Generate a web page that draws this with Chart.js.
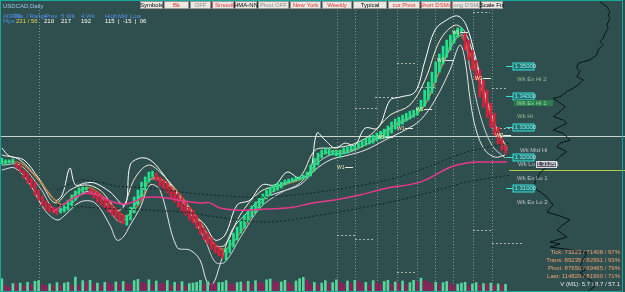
<!DOCTYPE html>
<html>
<head>
<meta charset="utf-8">
<script src="https://cdn.jsdelivr.net/npm/chart.js@4.4.1/dist/chart.umd.min.js"></script>
<style>
  html, body { margin: 0; padding: 0; background: #2f4f4f; }
  #wrap { width: 625px; height: 292px; }
</style>
</head>
<body>
<div id="wrap"><canvas id="chart" width="625" height="292"></canvas></div>
<script>
// ===========================
// Data
// ===========================

const opens = [
    1.3178, 1.3178, 1.3182, 1.3182, 1.3182, 1.3175, 1.3159, 1.3149, 1.3132, 1.3119,
    1.3093, 1.3074, 1.3057, 1.3047, 1.3037, 1.3034, 1.3018, 1.3021, 1.3027, 1.3041,
    1.3060, 1.3077, 1.3087, 1.3093, 1.3097, 1.3093, 1.3087, 1.3077, 1.3067, 1.3060,
    1.3044, 1.3034, 1.3021, 1.3011, 1.2978, 1.2995, 1.3018, 1.3044, 1.3070, 1.3093,
    1.3119, 1.3136, 1.3149, 1.3136, 1.3126, 1.3116, 1.3103, 1.3093, 1.3083, 1.3070,
    1.3054, 1.3037, 1.3027, 1.3011, 1.2988, 1.2968, 1.2952, 1.2936, 1.2919, 1.2906,
    1.2896, 1.2864, 1.2887, 1.2906, 1.2929, 1.2952, 1.2968, 1.2988, 1.3005, 1.3018,
    1.3034, 1.3047, 1.3064, 1.3074, 1.3087, 1.3093, 1.3100, 1.3110, 1.3116, 1.3119,
    1.3123, 1.3126, 1.3129, 1.3132, 1.3139, 1.3155, 1.3175, 1.3198, 1.3211, 1.3208,
    1.3208, 1.3205, 1.3201, 1.3211, 1.3214, 1.3221, 1.3224, 1.3231, 1.3234, 1.3240,
    1.3244, 1.3247, 1.3254, 1.3260, 1.3263, 1.3270, 1.3280, 1.3293, 1.3303, 1.3309,
    1.3319, 1.3326, 1.3332, 1.3339, 1.3355, 1.3368, 1.3388, 1.3411, 1.3447, 1.3480,
    1.3506, 1.3529, 1.3552, 1.3575, 1.3595, 1.3608, 1.3611, 1.3585, 1.3552, 1.3519,
    1.3487, 1.3454, 1.3421, 1.3378, 1.3345, 1.3299, 1.3263, 1.3240
];

const closes = [
    1.3198, 1.3192, 1.3192, 1.3195, 1.3165, 1.3152, 1.3132, 1.3116, 1.3100, 1.3077,
    1.3060, 1.3041, 1.3027, 1.3021, 1.3018, 1.3014, 1.3034, 1.3044, 1.3060, 1.3077,
    1.3090, 1.3100, 1.3103, 1.3103, 1.3077, 1.3067, 1.3054, 1.3044, 1.3034, 1.3021,
    1.3011, 1.3001, 1.2988, 1.2982, 1.3011, 1.3037, 1.3070, 1.3093, 1.3119, 1.3136,
    1.3152, 1.3155, 1.3123, 1.3106, 1.3093, 1.3083, 1.3067, 1.3054, 1.3037, 1.3021,
    1.3011, 1.2995, 1.2985, 1.2968, 1.2949, 1.2929, 1.2916, 1.2900, 1.2887, 1.2877,
    1.2870, 1.2903, 1.2929, 1.2952, 1.2972, 1.2995, 1.3011, 1.3024, 1.3041, 1.3054,
    1.3067, 1.3080, 1.3093, 1.3103, 1.3110, 1.3116, 1.3119, 1.3126, 1.3129, 1.3132,
    1.3136, 1.3136, 1.3142, 1.3152, 1.3175, 1.3198, 1.3214, 1.3224, 1.3231, 1.3227,
    1.3224, 1.3224, 1.3224, 1.3231, 1.3234, 1.3237, 1.3240, 1.3247, 1.3254, 1.3263,
    1.3267, 1.3273, 1.3280, 1.3286, 1.3293, 1.3303, 1.3316, 1.3326, 1.3332, 1.3339,
    1.3345, 1.3352, 1.3355, 1.3362, 1.3388, 1.3421, 1.3447, 1.3480, 1.3513, 1.3539,
    1.3565, 1.3585, 1.3601, 1.3614, 1.3625, 1.3625, 1.3552, 1.3519, 1.3487, 1.3454,
    1.3398, 1.3365, 1.3332, 1.3299, 1.3273, 1.3244, 1.3224, 1.3214
];

// tick volume (thousands)
const volumes = [
    82, 44, 30, 52, 48, 55, 40, 60, 45, 66, 70, 48, 40, 50, 38, 58, 42, 55, 60, 45,
    92, 40, 70, 62, 72, 50, 55, 42, 60, 58, 48, 62, 50, 65, 52, 48, 70, 78, 60, 52,
    75, 45, 68, 55, 50, 70, 40, 60, 50, 64, 38, 52, 55, 60, 72, 48, 65, 55, 50, 58,
    60, 70, 52, 45, 58, 62, 55, 66, 48, 70, 60, 52, 75, 80, 68, 56, 62, 72, 58, 45,
    68, 82, 90, 75, 50, 60, 45, 55, 70, 52, 58, 75, 62, 48, 68, 55, 72, 66, 52, 60,
    45, 70, 58, 48, 65, 72, 50, 62, 55, 68, 48, 58, 72, 64, 85, 70, 62, 50, 60, 45,
    58, 65, 52, 40, 48, 55, 60, 42, 50, 58, 45, 52, 48, 55, 40, 50, 44, 48
];

// indicator lines: [bar, price]
const smoothLine = [
    [0, 1.3185], [5, 1.3182], [10, 1.3126], [15, 1.3054], [17, 1.3047], [21, 1.3090], [24, 1.3100],
    [28, 1.3067], [32, 1.3018], [34, 1.3008], [38, 1.3060], [40, 1.3126], [43, 1.3132], [48, 1.3083],
    [54, 1.2988], [58, 1.2913], [61, 1.2900], [65, 1.2955], [70, 1.3044], [75, 1.3100], [81, 1.3126],
    [84, 1.3146], [86, 1.3201], [89, 1.3218], [95, 1.3224], [103, 1.3267], [108, 1.3316], [114, 1.3355],
    [118, 1.3454], [122, 1.3569], [124.5, 1.3601], [127, 1.3552], [131, 1.3405], [134, 1.3306], [137, 1.3231]
];

const bandUpper = [
    [0, 1.3231], [2, 1.3205], [6, 1.3192], [10, 1.3132], [14.5, 1.3060], [16.4, 1.3077], [18.5, 1.3165],
    [20, 1.3110], [22.6, 1.3116], [25.3, 1.3116], [29.4, 1.3087], [33.5, 1.3044], [34.9, 1.3175],
    [37.6, 1.3198], [40.3, 1.3192], [43, 1.3159], [47, 1.3093], [52.5, 1.3011], [55.3, 1.2978],
    [58, 1.2929], [60.7, 1.2946], [64, 1.3044], [67.5, 1.3060], [70.8, 1.3110], [74.3, 1.3110],
    [77.6, 1.3152], [81, 1.3132], [83.8, 1.3152], [85.7, 1.3280], [87.9, 1.3257], [90.6, 1.3231],
    [93.4, 1.3247], [96, 1.3240], [98.8, 1.3296], [102.3, 1.3296], [105.6, 1.3388], [108.3, 1.3398],
    [112.4, 1.3415], [115, 1.3513], [117.8, 1.3618], [121, 1.3651], [124, 1.3664], [126.3, 1.3634],
    [128.7, 1.3536], [131.4, 1.3405], [134.2, 1.3306], [137.4, 1.3231]
];

const bandLower = [
    [0, 1.3159], [3.6, 1.3165], [7.7, 1.3110], [11.7, 1.3027], [15, 1.2995], [17.2, 1.3011],
    [21.3, 1.3054], [25.3, 1.3051], [29.4, 1.2978], [31.3, 1.2929], [33, 1.2939], [34.9, 1.2978],
    [37.6, 1.3034], [40.3, 1.3110], [43, 1.3093], [47.6, 1.2906], [51.2, 1.2896], [53.9, 1.2864],
    [55.8, 1.2792], [57.4, 1.2785], [59.3, 1.2847], [62.6, 1.2962], [66.1, 1.3011], [70.2, 1.3060],
    [75.7, 1.3087], [81.1, 1.3110], [85.2, 1.3159], [89.3, 1.3192], [93.4, 1.3205], [98.8, 1.3224],
    [104.2, 1.3257], [109.7, 1.3290], [113.8, 1.3322], [117.8, 1.3388], [121.9, 1.3487],
    [124.6, 1.3569], [126, 1.3519], [127.4, 1.3388], [129, 1.3290], [131.4, 1.3224], [134.2, 1.3201],
    [136.9, 1.3208]
];

const innerHigh = [
    [0, 1.3208], [4.9, 1.3192], [10.4, 1.3119], [14.5, 1.3051], [18.5, 1.3093], [22.6, 1.3110],
    [26.7, 1.3093], [32.1, 1.3027], [36.2, 1.3132], [39.8, 1.3175], [43, 1.3152], [48.5, 1.3077],
    [53.9, 1.2988], [58, 1.2913], [60.7, 1.2913], [64.8, 1.3011], [70.2, 1.3087], [75.7, 1.3110],
    [81.1, 1.3136], [85.2, 1.3224], [89.3, 1.3231], [94.7, 1.3240], [100.2, 1.3273], [105.6, 1.3339],
    [111, 1.3372], [115.1, 1.3454], [119.2, 1.3585], [123.3, 1.3634], [126, 1.3611], [128.7, 1.3519],
    [132, 1.3388], [134.7, 1.3290], [137.4, 1.3224]
];

const innerLow = [
    [0, 1.3175], [4.9, 1.3175], [10.4, 1.3100], [14.5, 1.3027], [18.5, 1.3044], [22.6, 1.3087],
    [26.7, 1.3074], [32.1, 1.2988], [36.2, 1.3044], [40.3, 1.3126], [44.4, 1.3119], [49.8, 1.3044],
    [55.3, 1.2929], [58, 1.2857], [60.7, 1.2857], [64.8, 1.2936], [70.2, 1.3034], [75.7, 1.3083],
    [81.1, 1.3116], [85.2, 1.3175], [89.3, 1.3208], [94.7, 1.3218], [100.2, 1.3251], [105.6, 1.3297],
    [111, 1.3329], [115.1, 1.3372], [119.2, 1.3487], [123.3, 1.3585], [125.5, 1.3601], [127.4, 1.3487],
    [130.1, 1.3339], [133.3, 1.3240], [136.9, 1.3198]
];

const longMa = [
    [14, 1.3021], [17.7, 1.3054], [21.3, 1.3077], [24, 1.3083], [26.7, 1.3074], [30.2, 1.3054],
    [33.5, 1.3047], [35.7, 1.3054], [38.4, 1.3067], [41.1, 1.3070], [44.9, 1.3067], [49.3, 1.3057],
    [53.9, 1.3051], [56.6, 1.3051], [59.3, 1.3034], [64.8, 1.3027], [72.1, 1.3031], [79.2, 1.3037],
    [84.6, 1.3051], [90.1, 1.3060], [97.4, 1.3077], [104.8, 1.3100], [113.8, 1.3119], [121.9, 1.3168],
    [126.5, 1.3182], [132, 1.3185], [137.4, 1.3185]
];

const envUpper = [
    [15, 1.3093], [21.3, 1.3126], [26.7, 1.3119], [31.3, 1.3106], [40.3, 1.3100], [48.5, 1.3087],
    [56.6, 1.3077], [72.1, 1.3070], [90.1, 1.3093], [104.8, 1.3126], [113.8, 1.3159], [126.5, 1.3218],
    [138.2, 1.3247]
];

const envLower = [
    [15, 1.3044], [26.7, 1.3034], [40.3, 1.3027], [49.3, 1.3021], [56.6, 1.3008], [72.1, 1.2988],
    [90.1, 1.3018], [104.8, 1.3051], [113.8, 1.3077], [126.5, 1.3119], [138.2, 1.3142]
];

// volume profile on the right: [volume (k), price]
const profile = [
    [20.0, 1.3711], [14.6, 1.3695], [12.0, 1.3678], [13.4, 1.3667], [12.0, 1.3657], [14.6, 1.3634],
    [13.4, 1.3624], [16.0, 1.3607], [17.4, 1.3591], [20.0, 1.3580], [17.4, 1.3569], [21.4, 1.3553],
    [22.6, 1.3536], [28.0, 1.3520], [33.4, 1.3514], [37.4, 1.3509], [38.6, 1.3493], [36.0, 1.3481],
    [38.6, 1.3465], [33.4, 1.3454], [37.4, 1.3438], [41.4, 1.3427], [46.6, 1.3416], [52.0, 1.3399],
    [57.4, 1.3394], [53.4, 1.3383], [48.0, 1.3367], [52.0, 1.3350], [57.4, 1.3334], [49.4, 1.3323],
    [46.6, 1.3312], [52.0, 1.3301], [57.4, 1.3290], [49.4, 1.3279], [44.0, 1.3257], [52.0, 1.3247],
    [54.6, 1.3235], [46.6, 1.3219], [52.0, 1.3203], [54.6, 1.3192], [57.4, 1.3181], [62.6, 1.3170],
    [68.0, 1.3149], [70.4, 1.3133], [73.6, 1.3103], [68.0, 1.3087], [62.4, 1.3070], [57.6, 1.3044],
    [60.0, 1.3034], [62.4, 1.3021], [52.0, 1.3008], [44.0, 1.2995], [49.6, 1.2979], [54.4, 1.2962],
    [46.4, 1.2939], [60.0, 1.2923], [52.0, 1.2916], [60.0, 1.2906], [48.0, 1.2900], [30.4, 1.2887],
    [33.6, 1.2864], [36.0, 1.2841], [32.0, 1.2831], [36.0, 1.2821], [28.0, 1.2798], [22.4, 1.2782],
    [30.4, 1.2759]
];

const roundLevels = [1.35, 1.34, 1.33, 1.32, 1.31];
const currentPrice = 1.3270;
const weekLow = 1.3159;
const weekMarks = [10.1, 91.2, 96.1, 102.1, 107.5, 112.9, 117.8, 122.7, 128.2, 133.3];
// weekly pivot segments: [from bar, to bar, price]
const pivotSegments = [
    [91.2, 96.1, 1.2945], [96.1, 101.0, 1.2932], [107.5, 112.7, 1.2824], [128.2, 133.3, 1.2962],
    [133.3, 141.8, 1.2919], [128.2, 132.8, 1.3677], [101.5, 107.5, 1.3398], [96.1, 102.1, 1.3362],
    [107.5, 112.4, 1.3510], [133.3, 137.4, 1.3428], [113, 118, 1.3431], [133.3, 143.7, 1.3297]
];
// weekly pivot tags: [bar, price, text]
const pivotTags = [
    [92, 1.3169, 'W1'], [102.9, 1.3267, 'W1'], [108.3, 1.3297, 'W1'], [113.5, 1.3359, 'W1'],
    [119.2, 1.3519, 'W1'], [123.3, 1.3611, 'W1'], [129.5, 1.3461, 'W1'], [135, 1.3273, 'WP']
];

const buttons = ['Symbols', 'Bk', 'OFF', 'J Smooth', 'HMA-NN', 'Pivot OFF', 'New York',
    'Weekly', 'Typical', 'cur.Pivot', 'Short DSMA', 'Long DSMA', 'Scale Fix'];
const statLines = ['Tick: 73223 / 71408 / 97%', 'Trans: 89235 / 82991 / 93%',
    'Pivot: 87650 / 69465 / 79%', 'Last: 114820 / 81990 / 71%', 'V (M1): 5.7 / 8.7 / 57.1'];

// ===========================
// Chart.js Configuration
// ===========================

const UP = '#1de38c';
const DOWN = '#dc1f3c';
const FONT = '"Liberation Sans", Arial, sans-serif';

function pts(arr) {
    return arr.map(p => ({ x: p[0], y: p[1] }));
}

function lineSet(data, color, extra) {
    return Object.assign({
        type: 'line',
        data: pts(data),
        borderColor: color,
        borderWidth: 1,
        pointRadius: 0,
        tension: 0.35,
        fill: false
    }, extra || {});
}

function hiddenAxis(opts) {
    return Object.assign({
        type: 'linear',
        display: false,
        offset: false,
        grace: 0,
        ticks: { display: false },
        grid: { display: false, offset: false }
    }, opts);
}

const overlay = {
    id: 'overlay',
    beforeDatasetsDraw(chart) {
        const ctx = chart.ctx;
        const x = chart.scales.x, y = chart.scales.y;
        ctx.save();
        ctx.fillStyle = '#2f4f4f';
        ctx.fillRect(0, 0, chart.width, chart.height);

        // weekly separators
        ctx.strokeStyle = 'rgba(200,210,210,0.55)';
        ctx.lineWidth = 1;
        ctx.setLineDash([1, 2]);
        weekMarks.forEach(b => {
            const px = Math.round(x.getPixelForValue(b)) + 0.5;
            ctx.beginPath();
            ctx.moveTo(px, 10);
            ctx.lineTo(px, chart.height);
            ctx.stroke();
        });

        // weekly pivot levels
        ctx.strokeStyle = 'rgba(215,220,215,0.75)';
        ctx.setLineDash([2, 2]);
        pivotSegments.forEach(s => {
            const py = Math.round(y.getPixelForValue(s[2])) + 0.5;
            ctx.beginPath();
            ctx.moveTo(x.getPixelForValue(s[0]), py);
            ctx.lineTo(x.getPixelForValue(s[1]), py);
            ctx.stroke();
        });
        ctx.setLineDash([]);

        // current price line
        const cp = Math.round(y.getPixelForValue(currentPrice)) + 0.5;
        ctx.strokeStyle = '#c9d6cf';
        ctx.beginPath();
        ctx.moveTo(0, cp);
        ctx.lineTo(chart.width, cp);
        ctx.stroke();

        // weekly low line
        const wl = Math.round(y.getPixelForValue(weekLow)) + 0.5;
        ctx.strokeStyle = '#b5c94a';
        ctx.beginPath();
        ctx.moveTo(x.getPixelForValue(138), wl);
        ctx.lineTo(chart.width, wl);
        ctx.stroke();
        ctx.restore();
    },
    afterDatasetsDraw(chart) {
        const ctx = chart.ctx;
        const x = chart.scales.x, y = chart.scales.y;
        ctx.save();
        ctx.textBaseline = 'middle';
        ctx.font = '5px ' + FONT;

        // pivot tags with short white dash
        pivotTags.forEach(t => {
            const px = x.getPixelForValue(t[0]);
            const py = Math.round(y.getPixelForValue(t[1])) + 0.5;
            ctx.fillStyle = '#f2eeb0';
            ctx.fillText(t[2], px - 3, py);
            ctx.strokeStyle = '#e8e8e8';
            ctx.beginPath();
            ctx.moveTo(px + 5, py);
            ctx.lineTo(px + 13, py);
            ctx.stroke();
        });

        // border
        ctx.strokeStyle = '#1aa89c';
        ctx.lineWidth = 1;
        ctx.strokeRect(0.5, 0.5, chart.width - 3, chart.height - 1);

        // title + info block
        ctx.font = '6px ' + FONT;
        ctx.fillStyle = '#9cc7ee';
        ctx.fillText('USDCAD,Daily', 3, 6);
        ctx.fillStyle = '#4f8fe8';
        ctx.fillText('ADR/D', 3, 16);
        ctx.fillText('Tav. / Range', 14, 16);
        ctx.fillText('Prev', 45, 16);
        ctx.fillText('5 Wk', 61, 16);
        ctx.fillText('4 Wk', 81, 16);
        ctx.fillText('High', 105, 16);
        ctx.fillText('Mid', 118, 16);
        ctx.fillText('Low', 130, 16);
        ctx.fillText('Pips', 3, 21);
        ctx.fillStyle = '#e8d44d';
        ctx.fillText('231 / 56', 16, 21);
        ctx.fillStyle = '#ffffff';
        ctx.fillText('210', 44, 21);
        ctx.fillText('217', 61, 21);
        ctx.fillText('192', 81, 21);
        ctx.fillText('115  |  -15  |  06', 105, 21);

        // buttons
        const edges = [140, 164, 190, 212, 235, 258, 290, 322, 353, 388, 421, 452, 481, 504];
        const colors = ['#000', '#d33', '#888', '#d33', '#000', '#888', '#d33', '#d33', '#000', '#d33', '#d33', '#888', '#000'];
        ctx.textAlign = 'center';
        buttons.forEach((b, i) => {
            const x0 = edges[i], w = edges[i + 1] - edges[i] - 1;
            ctx.fillStyle = '#ece8e2';
            ctx.fillRect(x0, 1, w, 8);
            ctx.strokeStyle = '#9a9a9a';
            ctx.strokeRect(x0 + 0.5, 1.5, w - 1, 7);
            ctx.fillStyle = colors[i];
            ctx.fillText(b, x0 + w / 2, 5.5);
        });

        // round number boxes
        ctx.textAlign = 'left';
        roundLevels.forEach(lv => {
            const py = Math.round(y.getPixelForValue(lv)) + 0.5;
            ctx.strokeStyle = '#3fe0d8';
            ctx.beginPath();
            ctx.moveTo(506, py);
            ctx.lineTo(513, py);
            ctx.stroke();
            ctx.fillStyle = '#1f6f6c';
            ctx.fillRect(513, py - 3.5, 21, 7);
            ctx.strokeRect(513, py - 3.5, 21, 7);
            ctx.fillStyle = '#8ff5f0';
            ctx.fillText(lv.toFixed(5), 514.5, py);
        });

        // weekly level names
        ctx.fillStyle = '#8fbf8f';
        ctx.fillText('Wk Ex Hi 2', 517, 79);
        ctx.fillStyle = '#2e7d4f';
        ctx.fillRect(514, 100, 39, 6);
        ctx.fillStyle = '#8fdf9f';
        ctx.fillText('Wk Ex Hi 1', 517, 103);
        ctx.fillStyle = '#8fbf8f';
        ctx.fillText('Wk Hi', 517, 116);
        ctx.fillStyle = '#c0c0c0';
        ctx.fillText('Wk Mid Hi', 520, 150);
        ctx.fillText('Wk Lo', 518, 164);
        ctx.fillStyle = '#556';
        ctx.fillRect(536, 161, 20, 7);
        ctx.strokeStyle = '#ddd';
        ctx.strokeRect(536.5, 161.5, 20, 6);
        ctx.fillStyle = '#fff';
        ctx.fillText('1.31255', 537, 164.5);
        ctx.fillStyle = '#c0c0c0';
        ctx.fillText('Wk Ex Lo 1', 517, 178);
        ctx.fillText('Wk Ex Lo 2', 517, 202);

        // stats block
        ctx.textAlign = 'right';
        statLines.forEach((s, i) => {
            ctx.fillStyle = i < 4 ? '#f0a070' : '#e8e8e8';
            ctx.fillText(s, 620, 252 + i * 8);
        });
        ctx.restore();
    }
};

const candleColors = opens.map((o, i) => closes[i] >= o ? UP : DOWN);
const volColors = volumes.map((v, i) => (i === 0 || v >= volumes[i - 1]) ? '#55d69a' : '#a3175e');

const chart = new Chart(document.getElementById('chart'), {
    type: 'bar',
    data: {
        datasets: [
            lineSet(envUpper, '#0f2424', { borderDash: [2, 2], tension: 0.3 }),
            lineSet(envLower, '#0f2424', { borderDash: [2, 2], tension: 0.3 }),
            lineSet(longMa, '#e8388c', { borderWidth: 1.5 }),
            {
                type: 'bar',
                data: volumes.map((v, i) => ({ x: i, y: v })),
                yAxisID: 'yv',
                backgroundColor: volColors,
                barThickness: 2,
                grouped: false
            },
            {
                type: 'bar',
                data: opens.map((o, i) => ({ x: i, y: [o, closes[i]] })),
                backgroundColor: candleColors,
                barThickness: 2,
                grouped: false
            },
            lineSet(smoothLine, '#c97a3a', { borderWidth: 1.2 }),
            lineSet(innerLow, '#cfcfcf'),
            lineSet(innerHigh, '#f4f0d8'),
            lineSet(bandLower, '#e6e6e6'),
            lineSet(bandUpper, '#ffffff'),
            {
                type: 'scatter',
                data: pts(profile),
                xAxisID: 'xvp',
                yAxisID: 'y',
                showLine: true,
                borderColor: '#0a1414',
                backgroundColor: '#0a1414',
                borderWidth: 1,
                pointRadius: 0,
                tension: 0
            }
        ]
    },
    options: {
        responsive: false,
        animation: false,
        devicePixelRatio: 1,
        layout: { padding: 0, autoPadding: false },
        plugins: {
            legend: { display: false },
            tooltip: { enabled: false }
        },
        scales: {
            x: hiddenAxis({ min: -0.5, max: 169.5 }),
            xvp: hiddenAxis({ axis: 'x', position: 'bottom', min: 0, max: 500, reverse: true }),
            y: hiddenAxis({ min: 1.27587, max: 1.37165 }),
            yv: hiddenAxis({ axis: 'y', position: 'left', min: 0, max: 1800 })
        }
    },
    plugins: [overlay]
});
</script>
</body>
</html>
